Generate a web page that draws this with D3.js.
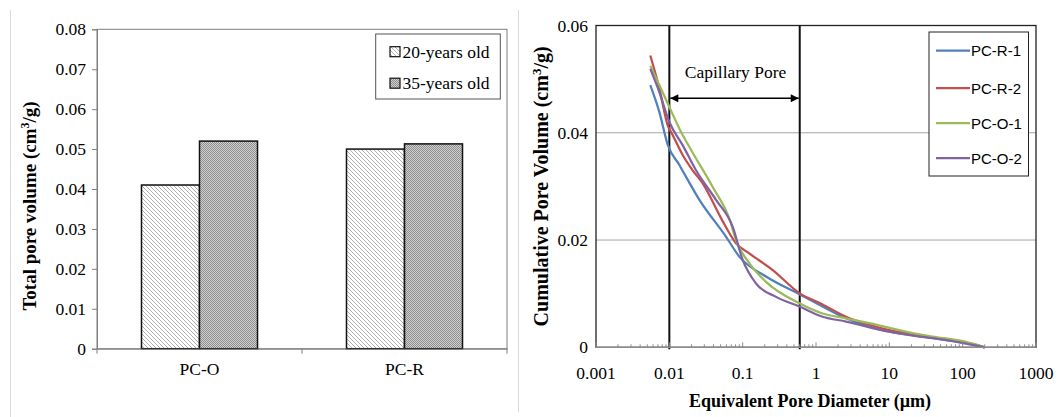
<!DOCTYPE html>
<html><head><meta charset="utf-8">
<script src="https://cdn.jsdelivr.net/npm/d3@7"></script>
<style>body{margin:0;background:#fff}</style>
</head><body><svg id="c" width="1058" height="417"></svg>
<script>
// ---------- Data: left bar chart ----------
const barCategories = ["PC-O", "PC-R"];
const barSeries = ["20-years old", "35-years old"];
const volume20 = [0.041, 0.050];
const volume35 = [0.052, 0.0513];
const barTicks = [0, 0.01, 0.02, 0.03, 0.04, 0.05, 0.06, 0.07, 0.08];

// ---------- Data: right cumulative pore curves ----------
const curveNames = ["PC-R-1", "PC-R-2", "PC-O-1", "PC-O-2"];
const diamR1 = [0.0055, 0.0073, 0.0095, 0.0137, 0.0257, 0.0594, 0.090, 0.208, 0.594, 1.23, 2.57, 10, 25.7, 50, 100, 200];
const volR1  = [0.0489, 0.0439, 0.0378, 0.0340, 0.0275, 0.0206, 0.0169, 0.0132, 0.0099, 0.0076, 0.0054, 0.0029, 0.0021, 0.0015, 0.0009, 0];
const diamR2 = [0.0055, 0.0073, 0.0095, 0.0111, 0.015, 0.0208, 0.0284, 0.052, 0.081, 0.123, 0.257, 0.594, 1.23, 2.57, 5.36, 10, 25.7, 50, 100, 200];
const volR2  = [0.0544, 0.0483, 0.0414, 0.0396, 0.0360, 0.0330, 0.0306, 0.0238, 0.0194, 0.0175, 0.0144, 0.0101, 0.0080, 0.0057, 0.0042, 0.0032, 0.0023, 0.0016, 0.0010, 0];
const diamO1 = [0.0055, 0.0073, 0.01, 0.0144, 0.0198, 0.039, 0.067, 0.081, 0.123, 0.208, 0.594, 1.23, 2.57, 5.36, 25.7, 38.9, 111, 200];
const volO1  = [0.0525, 0.0489, 0.0448, 0.0402, 0.0368, 0.0299, 0.0237, 0.0200, 0.0157, 0.0122, 0.0082, 0.0063, 0.0054, 0.0045, 0.0024, 0.0020, 0.0010, 0];
const diamO2 = [0.0055, 0.0073, 0.01, 0.0152, 0.0231, 0.0433, 0.073, 0.1, 0.152, 0.286, 0.594, 1.23, 2.57, 10, 25.7, 38.9, 111, 200];
const volO2  = [0.0519, 0.0476, 0.0420, 0.0377, 0.0330, 0.0275, 0.0225, 0.0163, 0.0119, 0.0094, 0.0076, 0.0057, 0.0048, 0.0029, 0.0020, 0.0017, 0.0007, 0];
const diamTicks = [0.001, 0.01, 0.1, 1, 10, 100, 1000];
const diamTickLabels = ["0.001", "0.01", "0.1", "1", "10", "100", "1000"];
const volTicks = [0, 0.02, 0.04, 0.06];
const capillaryRange = [0.01, 0.6];
const capillaryLabel = "Capillary Pore";

// ---------- Styles ----------
const serif = "'Liberation Serif','Times New Roman',serif";
const sans = "'Liberation Sans',Arial,sans-serif";
const curveColors = ["#4F81BD", "#C0504D", "#9BBB59", "#8064A2"];

const svg = d3.select("#c");
svg.append("rect").attr("width", 1058).attr("height", 417).attr("fill", "#fff");

const defs = svg.append("defs");
const hatch = defs.append("pattern").attr("id", "hatch").attr("patternUnits", "userSpaceOnUse")
  .attr("width", 4).attr("height", 4);
hatch.append("rect").attr("width", 4).attr("height", 4).attr("fill", "#fff");
hatch.append("path").attr("d", "M-1,-1 L5,5 M-1,3 L1,5 M3,-1 L5,1").attr("stroke", "#a6a6a6").attr("stroke-width", 0.9);
const dots = defs.append("pattern").attr("id", "dots").attr("patternUnits", "userSpaceOnUse")
  .attr("width", 2).attr("height", 2);
dots.append("rect").attr("width", 2).attr("height", 2).attr("fill", "#d0d0d0");
dots.append("rect").attr("width", 1).attr("height", 1).attr("fill", "#8e8e8e");
dots.append("rect").attr("x", 1).attr("y", 1).attr("width", 1).attr("height", 1).attr("fill", "#8e8e8e");
const fills = ["url(#hatch)", "url(#dots)"];

// panel frame lines
svg.append("line").attr("x1", 10.5).attr("x2", 10.5).attr("y1", 10).attr("y2", 417).attr("stroke", "#d9d9d9");
svg.append("line").attr("x1", 518.5).attr("x2", 518.5).attr("y1", 10).attr("y2", 412).attr("stroke", "#d9d9d9");

// ================= LEFT CHART =================
const L = {x0: 97, x1: 507, y0: 29.3, y1: 348.7};
const yL = d3.scaleLinear().domain([0, 0.08]).range([L.y1, L.y0]);
const xL = d3.scaleBand().domain(barCategories).range([L.x0, L.x1]);
const xSub = d3.scaleBand().domain(barSeries).range([0, xL.bandwidth()]).paddingOuter(0.767);
const gL = svg.append("g");

gL.append("rect").attr("x", L.x0).attr("y", L.y0).attr("width", L.x1 - L.x0).attr("height", L.y1 - L.y0)
  .attr("fill", "none").attr("stroke", "#7f7f7f").attr("stroke-width", 1);

const barData = [];
barCategories.forEach((c, i) => {
  barData.push({c, s: barSeries[0], v: volume20[i], f: fills[0]});
  barData.push({c, s: barSeries[1], v: volume35[i], f: fills[1]});
});
gL.selectAll("rect.bar").data(barData).enter().append("rect").attr("class", "bar")
  .attr("x", d => xL(d.c) + xSub(d.s)).attr("width", xSub.bandwidth())
  .attr("y", d => yL(d.v)).attr("height", d => yL(0) - yL(d.v))
  .attr("fill", d => d.f).attr("stroke", "#111").attr("stroke-width", 1.5);

const yAxL = gL.append("g").attr("transform", `translate(${L.x0},0)`)
  .call(d3.axisLeft(yL).tickValues(barTicks).tickSize(5).tickPadding(6)
    .tickFormat(d => d === 0 ? "0" : d3.format(".2f")(d)));
yAxL.select(".domain").attr("stroke", "#7f7f7f");
yAxL.selectAll(".tick line").attr("stroke", "#7f7f7f");
yAxL.selectAll("text").attr("font-family", serif).attr("font-size", 17.5).attr("fill", "#000");

const xAxL = gL.append("g").attr("transform", `translate(0,${L.y1})`)
  .call(d3.axisBottom(xL).tickSize(0).tickPadding(14));
xAxL.select(".domain").attr("stroke", "#7f7f7f");
xAxL.selectAll("text").attr("font-family", serif).attr("font-size", 17.5).attr("fill", "#000");
const catBounds = [L.x0, L.x0 + xL.step(), L.x1];
gL.selectAll("line.ctick").data(catBounds).enter().append("line")
  .attr("x1", d => d).attr("x2", d => d).attr("y1", L.y1).attr("y2", L.y1 + 5).attr("stroke", "#7f7f7f");

gL.append("text").attr("transform", `translate(36,${(L.y0 + L.y1) / 2 + 17}) rotate(-90)`)
  .attr("text-anchor", "middle").attr("font-family", serif).attr("font-weight", "bold").attr("font-size", 19)
  .html("Total pore volume (cm<tspan baseline-shift='super' font-size='12'>3</tspan>/g)");

const lgL = gL.append("g");
lgL.append("rect").attr("x", 375.7).attr("y", 34).attr("width", 124.6).attr("height", 65)
  .attr("fill", "#fff").attr("stroke", "#555").attr("stroke-width", 1);
barSeries.forEach((s, i) => {
  const cy = 51.7 + i * 31.5;
  lgL.append("rect").attr("x", 390).attr("y", cy - 5).attr("width", 10).attr("height", 10)
    .attr("fill", fills[i]).attr("stroke", "#111").attr("stroke-width", 1.2);
  lgL.append("text").attr("x", 402.5).attr("y", cy + 6).attr("font-family", serif).attr("font-size", 17.5).text(s);
});

// ================= RIGHT CHART =================
const R = {x0: 596, x1: 1036, y0: 25.5, y1: 347.3};
const xR = d3.scaleLog().domain([0.001, 1000]).range([R.x0, R.x1]);
const yR = d3.scaleLinear().domain([0, 0.06]).range([R.y1, R.y0]);
const gR = svg.append("g");

gR.selectAll("line.grid").data(volTicks.filter(v => v > 0 && v < 0.06)).enter().append("line")
  .attr("x1", R.x0).attr("x2", R.x1).attr("y1", d => yR(d)).attr("y2", d => yR(d))
  .attr("stroke", "#a6a6a6").attr("stroke-width", 1);

gR.append("rect").attr("x", R.x0).attr("y", R.y0).attr("width", R.x1 - R.x0).attr("height", R.y1 - R.y0)
  .attr("fill", "none").attr("stroke", "#222").attr("stroke-width", 1.3);

gR.selectAll("line.cap").data(capillaryRange).enter().append("line")
  .attr("x1", d => xR(d)).attr("x2", d => xR(d)).attr("y1", R.y0).attr("y2", R.y1 + 2)
  .attr("stroke", "#111").attr("stroke-width", 2);

defs.append("marker").attr("id", "ah").attr("viewBox", "0 0 10 10").attr("refX", 10).attr("refY", 5)
  .attr("markerWidth", 10).attr("markerHeight", 8).attr("markerUnits", "userSpaceOnUse").attr("orient", "auto-start-reverse")
  .append("path").attr("d", "M0,0 L10,5 L0,10 Z").attr("fill", "#000");
gR.append("line").attr("x1", xR(capillaryRange[0]) + 1).attr("x2", xR(capillaryRange[1]) - 1)
  .attr("y1", 98.3).attr("y2", 98.3).attr("stroke", "#000").attr("stroke-width", 1.5)
  .attr("marker-start", "url(#ah)").attr("marker-end", "url(#ah)");
gR.append("text").attr("x", (xR(capillaryRange[0]) + xR(capillaryRange[1])) / 2 + 1).attr("y", 78)
  .attr("text-anchor", "middle").attr("font-family", serif).attr("font-size", 17.5).text(capillaryLabel);

const curves = [[diamR1, volR1], [diamR2, volR2], [diamO1, volO1], [diamO2, volO2]];
const line = d3.line().x(d => xR(d[0])).y(d => yR(d[1])).curve(d3.curveMonotoneX);
curves.forEach((c, i) => {
  const pts = c[0].map((d, j) => [d, c[1][j]]);
  gR.append("path").datum(pts).attr("d", line).attr("fill", "none")
    .attr("stroke", curveColors[i]).attr("stroke-width", 2.25).attr("stroke-linejoin", "round");
});

gR.append("line").attr("x1", R.x0).attr("x2", R.x1).attr("y1", R.y1).attr("y2", R.y1).attr("stroke", "#8c8c8c").attr("stroke-width", 1.3);
const minor = [];
diamTicks.slice(0, -1).forEach(d => { for (let m = 2; m <= 9; m++) minor.push(d * m); });
gR.selectAll("line.mt").data(minor).enter().append("line")
  .attr("x1", d => xR(d)).attr("x2", d => xR(d)).attr("y1", R.y1).attr("y2", R.y1 - 3).attr("stroke", "#8c8c8c");
gR.selectAll("line.Mt").data(diamTicks).enter().append("line")
  .attr("x1", d => xR(d)).attr("x2", d => xR(d)).attr("y1", R.y1).attr("y2", R.y1 - 5).attr("stroke", "#8c8c8c");
gR.selectAll("text.xl").data(diamTicks).enter().append("text")
  .attr("x", d => xR(d)).attr("y", 379).attr("text-anchor", "middle")
  .attr("font-family", serif).attr("font-size", 17.5).text((d, i) => diamTickLabels[i]);
gR.selectAll("text.yl").data(volTicks).enter().append("text")
  .attr("x", R.x0 - 8).attr("y", d => yR(d) + 6).attr("text-anchor", "end")
  .attr("font-family", serif).attr("font-size", 17.5).text(d => d === 0 ? "0" : d3.format(".2f")(d));

gR.append("text").attr("x", (R.x0 + R.x1) / 2 - 6).attr("y", 407).attr("text-anchor", "middle")
  .attr("font-family", serif).attr("font-weight", "bold").attr("font-size", 18).text("Equivalent Pore Diameter (µm)");
gR.append("text").attr("transform", `translate(548,${(R.y0 + R.y1) / 2}) rotate(-90)`)
  .attr("text-anchor", "middle").attr("font-family", serif).attr("font-weight", "bold").attr("font-size", 20)
  .html("Cumulative Pore Volume (cm<tspan baseline-shift='super' font-size='13'>3</tspan>/g)");

const lgR = gR.append("g");
lgR.append("rect").attr("x", 929).attr("y", 32).attr("width", 99.5).attr("height", 144)
  .attr("fill", "#fff").attr("stroke", "#222").attr("stroke-width", 1);
const legY = [50.5, 88, 123, 158];
curveNames.forEach((n, i) => {
  lgR.append("line").attr("x1", 936).attr("x2", 970).attr("y1", legY[i]).attr("y2", legY[i])
    .attr("stroke", curveColors[i]).attr("stroke-width", 2.25);
  lgR.append("text").attr("x", 971).attr("y", legY[i] + 5.5).attr("font-family", sans).attr("font-size", 15).text(n);
});
</script></body></html>
